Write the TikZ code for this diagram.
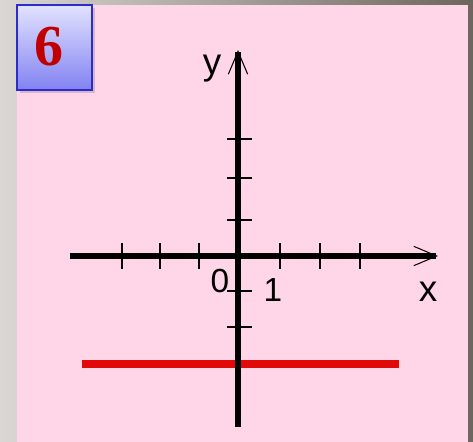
\documentclass[tikz,border=0pt]{standalone}
\usepackage{fontspec}
\setmainfont{Liberation Sans}
\newfontfamily\numfont{Liberation Serif}
\usetikzlibrary{arrows.meta,calc}

\definecolor{marbleL}{HTML}{DAD8D4}
\definecolor{marbleR}{HTML}{6E665C}
\definecolor{panelpink}{HTML}{FFD6E8}
\definecolor{boxblue}{HTML}{2B2BD0}
\definecolor{boxtop}{HTML}{E2E2FF}
\definecolor{boxbot}{HTML}{8282F2}
\definecolor{numred}{HTML}{C00000}
\definecolor{linered}{HTML}{E10A0A}

\tikzset{
  axis/.style={line width=3pt,-{Straight Barb[length=13pt,width=11pt,line width=0.6pt]}},
  tickmark/.style={line width=1.3pt},
  letterlbl/.style={font=\fontsize{21}{21}\selectfont,inner sep=0pt},
  digitlbl/.style={font=\fontsize{19}{19}\selectfont,inner sep=0pt},
}

\begin{document}
\begin{tikzpicture}[x=0.02cm,y=-0.02cm]

% ---------- Parameter (Pixelraster) ----------
\def\ox{238}
\def\oy{256}

\useasboundingbox (0,0) rectangle (473,442);

% ---------- Hintergrund ----------
\shade[left color=marbleL,right color=marbleR] (0,0) rectangle (473,442);
\fill[panelpink] (17,5) rectangle (468,442);

% ---------- Nummernfeld ----------
\fill[black,opacity=0.15] (20,8) rectangle (95,93);
\shade[top color=boxtop,bottom color=boxbot] (17,5) rectangle (92,90);
\draw[boxblue,line width=1.7pt] (17,5) rectangle (92,90);
\node[font=\numfont\bfseries\fontsize{33}{33}\selectfont,text=numred,inner sep=0pt] (nr) at (48.5,46.5) {6};

% ---------- Gerade y = const (rot) ----------
\coordinate (gl) at (82,364);
\coordinate (gr) at (399,364);
\draw[linered,line width=4.5pt] (gl) -- (gr);

% ---------- Achsen ----------
\coordinate (O) at (\ox,\oy);
\coordinate (xl) at (70,\oy);
\coordinate (xr) at (438,\oy);
\coordinate (yb) at (\ox,427);
\coordinate (yt) at (\ox,50);

\draw[axis] (xl) -- (xr);
\draw[axis] (yb) -- (yt);

% Striche
\foreach \x in {122,160,199,280,320,360}
  \draw[tickmark] (\x,243) -- (\x,269);
\foreach \y in {139,178,220,291,327}
  \draw[tickmark] (227,\y) -- (252,\y);

% Beschriftung
\node[letterlbl] (ylbl) at (212,68.5) {y};
\node[letterlbl] (xlbl) at (428,292) {x};
\node[digitlbl] (null) at (220,281) {0};
\node[digitlbl] (eins) at (273,290) {1};

\end{tikzpicture}
\end{document}
